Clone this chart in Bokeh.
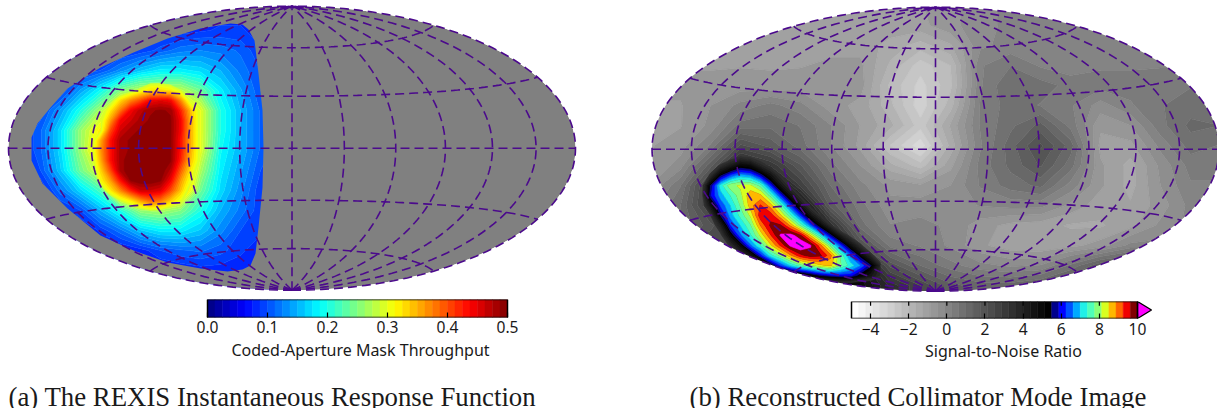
import numpy as np
from bokeh.plotting import figure
from bokeh.layouts import row, column
from bokeh.models import Range1d, FixedTicker, LinearAxis
from bokeh.core.properties import value
from bokeh.embed import file_html
from bokeh.resources import INLINE

# ---- values (grid positions are reference pixels) ----
mask_x = [20,40,60,80,100,120,140,160,180,200,220,240,260,280]
mask_y = [10,30,50,70,90,110,130,150,170,190,210,230,250,270,290]
mask_throughput = [
 [.08,.08,.08,.08,.08,.08,.08,.08,.08,.08,.08,.08,.08,.08],
 [.08,.08,.08,.08,.08,.08,.08,.08,.08,.085,.09,.09,.08,.08],
 [.08,.08,.08,.08,.08,.08,.09,.105,.12,.125,.12,.11,.09,.08],
 [.08,.08,.08,.09,.10,.13,.16,.18,.18,.17,.15,.12,.10,.09],
 [.08,.08,.085,.14,.19,.25,.28,.28,.28,.24,.18,.14,.10,.09],
 [.08,.09,.14,.20,.27,.37,.46,.49,.44,.30,.20,.15,.11,.09],
 [.08,.11,.17,.26,.32,.47,.50,.50,.43,.30,.20,.15,.11,.09],
 [.08,.11,.17,.26,.34,.48,.50,.50,.44,.30,.19,.15,.11,.09],
 [.08,.10,.16,.24,.30,.47,.50,.50,.42,.27,.18,.14,.10,.09],
 [.07,.07,.12,.17,.22,.37,.44,.44,.37,.24,.17,.13,.09,.08],
 [.07,.07,.08,.10,.15,.20,.26,.27,.25,.20,.15,.12,.09,.08],
 [.07,.07,.07,.07,.09,.12,.16,.18,.18,.16,.13,.10,.09,.08],
 [.07,.07,.07,.07,.07,.07,.08,.10,.11,.115,.105,.09,.08,.08],
 [.07,.07,.07,.07,.07,.07,.07,.07,.075,.08,.08,.08,.08,.08],
 [.07,.07,.07,.07,.07,.07,.07,.07,.07,.07,.07,.07,.07,.07],
]
core_x = [90,100,110,120,130,140,150,160,170,180,190,200,210]
core_y = [80,90,100,110,120,130,140,150,160,170,180,190,200,210]
core_throughput = [
 [.12,.14,.16,.19,.22,.25,.27,.27,.26,.24,.21,.19,.17],
 [.14,.17,.20,.24,.27,.30,.325,.33,.32,.29,.26,.23,.20],
 [.17,.21,.27,.33,.37,.40,.44,.45,.44,.37,.28,.26,.22],
 [.19,.26,.32,.38,.44,.47,.485,.49,.485,.42,.34,.28,.23],
 [.21,.28,.36,.44,.46,.48,.49,.50,.49,.44,.35,.28,.24],
 [.24,.28,.40,.46,.48,.49,.50,.50,.49,.44,.35,.28,.24],
 [.26,.35,.43,.48,.49,.50,.50,.50,.49,.43,.35,.28,.24],
 [.27,.36,.43,.48,.49,.50,.50,.50,.49,.43,.35,.28,.24],
 [.26,.35,.43,.48,.50,.50,.50,.50,.49,.42,.34,.28,.23],
 [.25,.33,.40,.48,.50,.50,.50,.50,.47,.39,.32,.26,.22],
 [.22,.31,.36,.43,.49,.50,.50,.49,.44,.36,.30,.25,.21],
 [.19,.26,.32,.37,.42,.46,.46,.45,.40,.34,.27,.23,.20],
 [.17,.21,.25,.29,.32,.36,.39,.38,.34,.30,.25,.21,.18],
 [.13,.16,.19,.22,.25,.27,.285,.28,.26,.24,.21,.18,.16],
]
footprint_x = [31,37,50,67,100,133,167,200,230,242,248,254,258,262,263,262,258,255,250,242,227,200,167,133,100,67,42,31]
footprint_y = [137,123,107,88,67,52,38,28,23,24,29,40,73,110,147,187,227,253,265,269,271,268,262,250,235,208,183,160]

snr_x = [650,680,710,740,770,800,830,860,890,920,950,980,1010,1040,1070,1100,1130,1160,1190,1220]
snr_y = [5,25,45,65,85,105,125,145,165,185,205,225,245,265,285,305]
snr_map = [
 [-1,-1,-1,-1,-1,-1,-1,-1,-.9,-.9,-.6,-.3,0,0,0,0,0,0,0,0],
 [-1,-1,-1,-1,-1,-1,-1,-1,-1,-1,-.6,-.3,0,0,0,0,0,0,0,0],
 [-1,-1,-1,-1,-1,-1,-1,-1,-1.4,-1.8,-1.3,-.2,0,.1,-.1,0,0,0,0,0],
 [-.9,-.9,-.9,-.9,-.9,-.9,-.8,-.8,-1.7,-2.6,-2,.2,.6,.2,0,.2,.2,.2,.2,.2],
 [-.8,-.8,-.8,-.7,-.8,-.7,-.6,-.7,-2.1,-2.9,-2.1,.2,1,.8,.5,.4,.4,.6,.6,.6],
 [-.9,-.9,-.5,0,.4,0,-.7,-1,-1.9,-3,-1.8,.3,.8,.6,.3,-.3,.2,.6,.8,.8],
 [-.9,-.9,-.4,.8,.9,.6,-.1,-.9,-1.5,-2.6,-1.2,.3,.9,1.5,.5,-.8,-.5,.5,1.1,1],
 [-.9,-.7,.3,2.2,1.6,.8,-.1,-1,-2.4,-3.4,-1.5,.2,1.2,2.2,1.2,-1,-1,0,.8,.6],
 [-.9,-.3,1.6,4,3.2,1.8,.4,-.5,-1.5,-2.2,-1,.4,1.1,1.8,.8,-.8,-1.4,-.4,.4,.4],
 [-.5,.6,3,5.7,5.5,2.8,1,0,-.6,-.8,-.5,.3,.8,1.1,.1,-.8,-1.4,-.5,.2,.2],
 [0,1,3,5.7,5.7,5,1.6,.4,-.4,-.3,-.3,-.1,0,0,-.6,-1.1,-1.2,-.7,0,0],
 [.5,1,2,3,5.7,5.7,3.5,.8,-.1,0,-.2,-.7,-1,-1.1,-1.3,-1.3,-1,-.4,0,0],
 [1.5,2,2.5,2.5,3,5.5,5.5,2.2,.5,.2,-.2,-.8,-1.1,-1.2,-1,-.7,0,0,0,0],
 [3,3,3,3,3.5,3.5,5,4.5,2,1,.4,0,-.2,-.1,.7,1.7,2,2,2,2],
 [4,4,4,4,4,4,5,5,3.5,2.5,1.5,1.2,1.2,1.5,2,3,3,3,3,3],
 [4,4,4,4,4,4,5,5,3.5,2.5,1.5,1.2,1.2,1.5,2,3,3,3,3,3],
]
streak_x = [700,710,720,730,740,750,760,770,780,790,800,810,820,830,840,850,860,870,880]
streak_y = [155,165,175,185,195,205,215,225,235,245,255,265,275,285]
streak_snr = [
 [1,1.5,2,2.5,3,2.8,2.4,2,1.6,1.5,1.5,1.5,1.5,1.5,1.5,1.5,1.5,1.5,1.5],
 [1.5,2.5,3.4,4.2,5,4.8,3.8,3,2.5,2,2,2,2,2,2,2,2,2,2],
 [2,3.5,5.4,6.3,6.8,6.6,5.8,4.6,3.3,2.5,2,2,2,2,2,2,2,2,2],
 [2.5,5.5,7.2,8,8.2,8.2,7.6,6.2,4.5,3.2,2.5,2,2,2,2,2,2,2,2],
 [2.5,5.8,6.8,7.4,8,8.8,8.6,7.6,6.2,4.6,3.2,2.5,2,2,2,2,2,2,2],
 [2.5,4.5,6.3,7,7.8,8.7,9.3,8.7,7.6,6.2,4.5,3,2,2,2,2,2,2,2],
 [2,3.2,5.5,6.8,7.5,8.2,9.5,9.5,8.6,7.5,6.2,4.6,3.2,2,2,2,2,2,2],
 [2,2.5,4,6.2,7,7.7,8.9,9.7,9.7,8.8,7.7,6.5,5,3.5,2,2,2,2,2],
 [2,2,3,5,6.5,7.3,8.2,9.2,10.05,10.2,9.7,8.5,7.2,5.7,4.2,3,2,2,2],
 [2,2,2,3.5,5,6.5,7.4,8.4,9.3,10.1,10.4,10.05,9,7.7,6.3,4.8,3.5,2,2],
 [2,2,2,2,3.2,4.5,6,7.2,7.9,8.8,9.5,9.8,9.7,9,7.7,6.5,5.2,3.8,2],
 [2,2,2,2,2,2,3,5,6.2,7,7.6,8,8.4,8.6,7.8,7.2,6.6,5.6,3.8],
 [2,2,2,2,2,2,2,2,3,4,4.5,5,5.5,5.8,6,6,5.2,4.5,3.5],
 [2,2,2,2,2,2,2,2,2,2,2,2,2,2,2,2,2,2,2],
]
snr_hot_colors = ["#00008c","#0000ff","#0050ff","#00aaff","#20f0e8","#50ffb8","#88ff78","#d8ff20","#ffb800","#ff6400","#f00000","#800000"]
mask_ticks = [0.0,0.1,0.2,0.3,0.4,0.5]
snr_ticks = [-4,-2,0,2,4,6,8,10]
graticule_lon = [-180,-150,-120,-90,-60,-30,0,30,60,90,120,150,180]
graticule_lat = [-60,-30,0,30,60]
caption_a = "(a) The REXIS Instantaneous Response Function"
caption_b = "(b) Reconstructed Collimator Mode Image"
label_a = "Coded-Aperture Mask Throughput"
label_b = "Signal-to-Noise Ratio"

# ---- colours ----
def jet_hex(t):
    c = [np.clip(1.5-abs(4*t-k),0,1) for k in (3,2,1)]
    return "#%02x%02x%02x" % tuple(int(round(255*v)) for v in c)

mask_levels = np.linspace(0,0.5,41)
mask_colors = [jet_hex((i+.5)/40) for i in range(40)]
snr_levels = np.linspace(-5,10,41)
n_grey = 40-len(snr_hot_colors)
snr_colors = ["#%02x%02x%02x" % ((int(round(255*(1-k/(n_grey-1)))),)*3) for k in range(n_grey)] + snr_hot_colors
OVER = "#ff00ff"

# ---- projection ----
R = 2*np.sqrt(2)
SX = 283.5/R
SY = 142.0/np.sqrt(2)
def hammer(lon,lat):
    l,p = np.radians(lon)/2, np.radians(lat)
    d = np.sqrt(1+np.cos(p)*np.cos(l))
    return R*np.cos(p)*np.sin(l)/d, np.sqrt(2)*np.sin(p)/d

edge_lat = np.linspace(-90,90,181)
ex,ey = hammer(np.full(181,180.),edge_lat)
ell_x = np.concatenate([ex,-ex[::-1]]); ell_y = np.concatenate([ey,ey[::-1]])

PURPLE = "#4b0a8c"
def base_map(px0,px1,cx,cy,H):
    x0,x1 = (px0-cx)/SX,(px1-cx)/SX
    y0,y1 = (cy-H)/SY,cy/SY
    p = figure(width=px1-px0,height=H,x_range=Range1d(x0,x1),y_range=Range1d(y0,y1),
               toolbar_location=None,output_backend="svg",min_border=0,
               x_axis_location=None,y_axis_location=None,outline_line_color=None)
    p.grid.visible = False
    return p,(x0,x1,y0,y1)

def mask_outside(p,b):
    x0,x1,y0,y1 = b
    d=.3
    p.multi_polygons(xs=[[[[x0-d,x1+d,x1+d,x0-d],list(ell_x)]]],ys=[[[[y0-d,y0-d,y1+d,y1+d],list(ell_y)]]],
                     fill_color="white",line_color=None)

def graticule(p):
    lat = np.linspace(-90,90,121); lon = np.linspace(-180,180,121)
    xs,ys=[],[]
    for m in graticule_lon:
        a,b = hammer(np.full(121,float(m)),lat); xs.append(list(a)); ys.append(list(b))
    for q in graticule_lat:
        a,b = hammer(lon,np.full(121,float(q))); xs.append(list(a)); ys.append(list(b))
    p.multi_line(xs,ys,line_color=PURPLE,line_width=1.6,line_dash="9 5")

def field(p,xv,yv,zv,levels,cols,cx,cy):
    x=(np.array(xv,float)-cx)/SX
    y=(cy-np.array(yv,float))/SY
    z=np.array(zv,float)
    p.contour(x,y[::-1],z[::-1],list(levels),fill_color=cols,line_color=cols+[cols[-1]],line_width=0.7)

def colorbar(levels,cols,ticks,labels,left,fw,total,top_ticks,top,fh,standoff,H,hi_over=None,over_w=14,tfs="15.6px"):
    lo,hi = levels[0],levels[-1]
    u = (hi-lo)/fw
    xmax = hi+over_w*u
    p = figure(width=total,height=H,x_range=Range1d(lo-left*u,hi+(total-left-fw)*u),y_range=Range1d(0,1),
               toolbar_location=None,output_backend="svg",
               min_border_left=0,min_border_right=0,min_border_top=top,min_border_bottom=H-top-fh,
               x_axis_location=None,y_axis_location=None,outline_line_color=None)
    p.grid.visible=False
    p.quad(left=levels[:-1],right=levels[1:],bottom=0,top=1,fill_color=cols,line_color=cols,line_width=.5)
    if hi_over:
        p.patch([hi,xmax,hi],[1,.5,0],fill_color=hi_over,line_color="black",line_width=1.3)
    p.quad(left=[lo],right=[hi],bottom=[0],top=[1],fill_color=None,line_color="black",line_width=1.5)
    ax = LinearAxis(ticker=FixedTicker(ticks=ticks),major_label_overrides=dict(zip(ticks,labels)),
                    major_tick_in=5,major_tick_out=0,major_tick_line_color="black",major_tick_line_width=1.2,
                    axis_line_color=None,minor_tick_line_color=None,
                    major_label_text_font="Noto Sans",major_label_text_font_size=tfs,major_label_text_color="#1a1a1a",
                    major_label_standoff=standoff)
    p.add_layout(ax,"below")
    if top_ticks:
        p.segment(x0=ticks,x1=ticks,y0=[.75]*len(ticks),y1=[1]*len(ticks),line_color="black",line_width=1.2)
    return p

def texts(lab,lab_x,lab_y,cap,cap_x,w,H):
    # H reaches 3px below the caption's box so that its descenders are not clipped
    p = figure(width=w,height=H,x_range=Range1d(0,w),y_range=Range1d(0,H),toolbar_location=None,
               output_backend="svg",min_border=0,x_axis_location=None,y_axis_location=None,outline_line_color=None)
    p.grid.visible=False
    p.text(x=[lab_x],y=[lab_y],text=[lab],text_font=value("Noto Sans"),text_font_size="16px",
           text_align="center",text_baseline="middle",text_color="#1a1a1a")
    p.text(x=[cap_x],y=[H-(396-(408-H))],text=[cap],text_font=value("Liberation Serif"),text_font_size="26.8px",
           text_baseline="middle",text_color="#1a1a1a")
    return p

# ---- panel a ----
CXA,CYA = 291.5,147.7
ma,ba = base_map(0,608,CXA,CYA,298)
mlv = list(mask_levels[:-1])+[1.0]
field(ma,mask_x,mask_y,mask_throughput,mlv,mask_colors,CXA,CYA)
ka=int(np.searchsorted(mask_levels,0.2874))
field(ma,core_x,core_y,core_throughput,mlv[ka:],mask_colors[ka:],CXA,CYA)
fx=(np.array(footprint_x,float)-CXA)/SX; fy=(CYA-np.array(footprint_y,float))/SY
ma.multi_polygons(xs=[[[list(ell_x),list(fx)]]],ys=[[[list(ell_y),list(fy)]]],fill_color="#808080",line_color=None)
mask_outside(ma,ba); graticule(ma)
cba = colorbar(list(mask_levels),mask_colors,mask_ticks,["%.1f"%t for t in mask_ticks],207,300,608,False,1,18,3,42)
capa = texts(label_a,360,59,caption_a,8,608,68)

# ---- panel b ----
CXB,CYB = 935.0,148.7
mb,bb = base_map(608,1217,CXB,CYB,298)
slv = list(snr_levels)+[20.0]
scol = snr_colors+[OVER]
field(mb,snr_x,snr_y,snr_map,slv,scol,CXB,CYB)
k=int(np.searchsorted(snr_levels,3.2))
field(mb,streak_x,streak_y,streak_snr,slv[k:],scol[k:],CXB,CYB)
mask_outside(mb,bb); graticule(mb)
cbb = colorbar(list(snr_levels),snr_colors,snr_ticks,[str(t).replace("-","\u2212") for t in snr_ticks],
               243,286,609,True,3,17,4,43,hi_over=OVER)
capb = texts(label_b,395,58,caption_b,81,609,67)

root = row(column(ma,cba,capa,spacing=0),column(mb,cbb,capb,spacing=0),spacing=0)
open("out.html","w").write(file_html(root,INLINE))
